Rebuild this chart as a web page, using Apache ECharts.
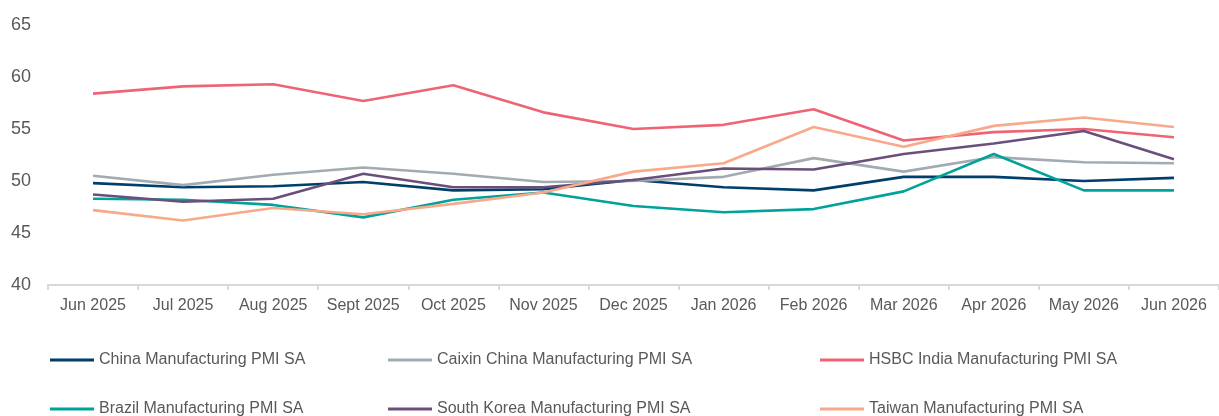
<!DOCTYPE html>
<html>
<head>
<meta charset="utf-8">
<script src="https://cdn.jsdelivr.net/npm/echarts@6/dist/echarts.min.js"></script>
<style>
  html, body { margin: 0; padding: 0; background: #fff; }
  #chart { width: 1219px; height: 416px; }
</style>
</head>
<body>
<div id="chart"></div>
<script>
// Monthly manufacturing PMI readings (seasonally adjusted)
const months = ['Jun 2025', 'Jul 2025', 'Aug 2025', 'Sept 2025', 'Oct 2025', 'Nov 2025', 'Dec 2025',
                'Jan 2026', 'Feb 2026', 'Mar 2026', 'Apr 2026', 'May 2026', 'Jun 2026'];

const chinaPMI     = [49.8, 49.4, 49.5, 49.9, 49.1, 49.2, 50.1, 49.4, 49.1, 50.4, 50.4, 50.0, 50.3];
const caixinPMI    = [50.5, 49.6, 50.6, 51.3, 50.7, 49.9, 50.0, 50.4, 52.2, 50.9, 52.3, 51.8, 51.7];
const indiaPMI     = [58.4, 59.1, 59.3, 57.7, 59.2, 56.6, 55.0, 55.4, 56.9, 53.9, 54.7, 55.0, 54.2];
const brazilPMI    = [48.3, 48.2, 47.7, 46.5, 48.2, 48.9, 47.6, 47.0, 47.3, 49.0, 52.6, 49.1, 49.1];
const koreaPMI     = [48.7, 48.0, 48.3, 50.7, 49.4, 49.4, 50.1, 51.2, 51.1, 52.6, 53.6, 54.8, 52.1];
const taiwanPMI    = [47.2, 46.2, 47.4, 46.8, 47.8, 48.9, 50.9, 51.7, 55.2, 53.3, 55.3, 56.1, 55.2];

const yTicks = { min: 40, max: 65, step: 5 };

const seriesDefs = [
  { name: 'China Manufacturing PMI SA',        data: chinaPMI,  color: '#003f6b', left: 50,  top: 350 },
  { name: 'Caixin China Manufacturing PMI SA', data: caixinPMI, color: '#a2abb1', left: 388, top: 350 },
  { name: 'HSBC India Manufacturing PMI SA',   data: indiaPMI,  color: '#ee6475', left: 820, top: 350 },
  { name: 'Brazil Manufacturing PMI SA',       data: brazilPMI, color: '#00a29a', left: 50,  top: 399 },
  { name: 'South Korea Manufacturing PMI SA',  data: koreaPMI,  color: '#6a4f7a', left: 388, top: 399 },
  { name: 'Taiwan Manufacturing PMI SA',       data: taiwanPMI, color: '#f8a98a', left: 820, top: 399 }
];

const textColor = '#595959';
const fontFamily = '"Liberation Sans", Arial, sans-serif';

const chart = echarts.init(document.getElementById('chart'), null, { renderer: 'canvas' });

chart.setOption({
  animation: false,
  backgroundColor: '#ffffff',
  textStyle: { fontFamily: fontFamily },
  grid: { left: 48, top: 25, width: 1173, height: 260, containLabel: false },
  legend: seriesDefs.map(s => ({
    data: [s.name],
    left: s.left,
    top: s.top,
    padding: 0,
    icon: 'rect',
    itemWidth: 44,
    itemHeight: 3,
    itemGap: 0,
    selectedMode: false,
    textStyle: { color: textColor, fontSize: 16, lineHeight: 20, padding: [0, 0, 0, 0], fontFamily: fontFamily }
  })),
  xAxis: {
    type: 'category',
    data: months,
    boundaryGap: true,
    axisLine: { lineStyle: { color: '#d9d9d9', width: 2 } },
    axisTick: { show: true, length: 5, lineStyle: { color: '#d9d9d9', width: 2 } },
    axisLabel: { color: textColor, fontSize: 16, margin: 13, interval: 0, fontFamily: fontFamily },
    splitLine: { show: false }
  },
  yAxis: {
    type: 'value',
    min: yTicks.min,
    max: yTicks.max,
    interval: yTicks.step,
    axisLine: { show: false },
    axisTick: { show: false },
    splitLine: { show: false },
    axisLabel: { color: textColor, fontSize: 18, margin: 17, fontFamily: fontFamily }
  },
  series: seriesDefs.map(s => ({
    name: s.name,
    type: 'line',
    data: s.data,
    showSymbol: false,
    symbol: 'none',
    color: s.color,
    lineStyle: { color: s.color, width: 2.6 },
    itemStyle: { color: s.color }
  }))
});
</script>
</body>
</html>
